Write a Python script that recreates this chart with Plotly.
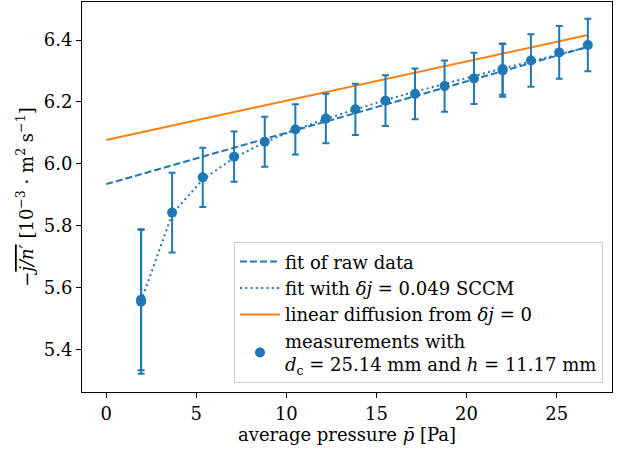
import plotly.graph_objects as go

# measurements
pressure = [1.94, 1.94, 3.66, 5.36, 7.10, 8.80, 10.50, 12.19, 13.83, 15.50,
            17.14, 18.78, 20.41, 22.00, 22.00, 23.57, 25.14, 26.73]
flux = [5.554, 5.560, 5.842, 5.956, 6.023, 6.071, 6.111, 6.146, 6.176, 6.204,
        6.226, 6.251, 6.276, 6.302, 6.306, 6.334, 6.360, 6.384]
flux_err = [0.233, 0.228, 0.129, 0.096, 0.081, 0.081, 0.081, 0.080, 0.083, 0.082,
            0.082, 0.083, 0.083, 0.085, 0.083, 0.085, 0.085, 0.085]

# fit of raw data (straight line)
raw_fit_p = [0.0, 26.73]
raw_fit_j = [5.934, 6.378]

# fit with offset delta j
dj_fit_p = [1.94, 3.66, 5.36, 7.10, 8.80, 10.50, 12.19, 13.83, 15.50,
            17.14, 18.78, 20.41, 22.00, 23.57, 25.14, 26.73]
dj_fit_j = [5.556, 5.837, 5.949, 6.019, 6.069, 6.110, 6.145, 6.176, 6.206,
            6.233, 6.259, 6.284, 6.308, 6.331, 6.354, 6.377]

# linear diffusion from delta j = 0
lin_p = [0.0, 26.73]
lin_j = [6.077, 6.416]

blue = "#1f77b4"
orange = "#ff7f0e"
font_family = "DejaVu Serif"
fs = 18

fig = go.Figure()
fig.add_trace(go.Scatter(x=raw_fit_p, y=raw_fit_j, mode="lines",
                         line=dict(color=blue, width=2, dash="7px,3px"),
                         name="fit of raw data"))
fig.add_trace(go.Scatter(x=dj_fit_p, y=dj_fit_j, mode="lines",
                         line=dict(color=blue, width=2, dash="2px,3.3px"),
                         name="fit with <i>δj</i> = 0.049 SCCM"))
fig.add_trace(go.Scatter(x=lin_p, y=lin_j, mode="lines",
                         line=dict(color=orange, width=2),
                         name="linear diffusion from <i>δj</i> = 0"))
fig.add_trace(go.Scatter(x=pressure, y=flux, mode="markers",
                         marker=dict(color=blue, size=10),
                         error_y=dict(type="data", array=flux_err, color=blue,
                                      thickness=2, width=3.5),
                         name="measurements with<br><i>d</i><sub>c</sub> = 25.14 mm and <i>h</i> = 11.17 mm"))

axis_common = dict(showline=True, linecolor="black", linewidth=1, mirror=True,
                   ticks="outside", ticklen=5, tickwidth=1, tickcolor="black",
                   showgrid=False, zeroline=False, automargin=False,
                   tickfont=dict(family=font_family, size=fs, color="black"))

fig.update_layout(
    width=629, height=450,
    margin=dict(l=82, r=17, t=2, b=58),
    plot_bgcolor="white", paper_bgcolor="white",
    font=dict(family=font_family, size=fs, color="black"),
    xaxis=dict(range=[-1.34, 28.07], tickvals=[0, 5, 10, 15, 20, 25],
               title=dict(text="average pressure <i>p̄</i> [Pa]", standoff=0,
                          font=dict(family=font_family, size=fs)),
               **axis_common),
    yaxis=dict(range=[5.262, 6.523], tickvals=[5.4, 5.6, 5.8, 6.0, 6.2, 6.4],
               tickformat=".1f",
               title=dict(text="−<span style=\"text-decoration:overline\"><i>j/n′</i></span> [10<sup>−3</sup> · m<sup>2</sup> s<sup>−1</sup>]",
                          standoff=5, font=dict(family=font_family, size=fs)),
               **axis_common),
    legend=dict(x=0.983, y=0.022, xanchor="right", yanchor="bottom",
                bgcolor="rgba(255,255,255,0.85)", bordercolor="#cccccc", borderwidth=1,
                font=dict(family=font_family, size=fs), tracegroupgap=0,
                itemwidth=40),
    showlegend=True,
)

fig.write_html("out.html", config={"displayModeBar": False},
               post_script="document.body.style.margin='0';document.body.style.overflow='hidden';")
